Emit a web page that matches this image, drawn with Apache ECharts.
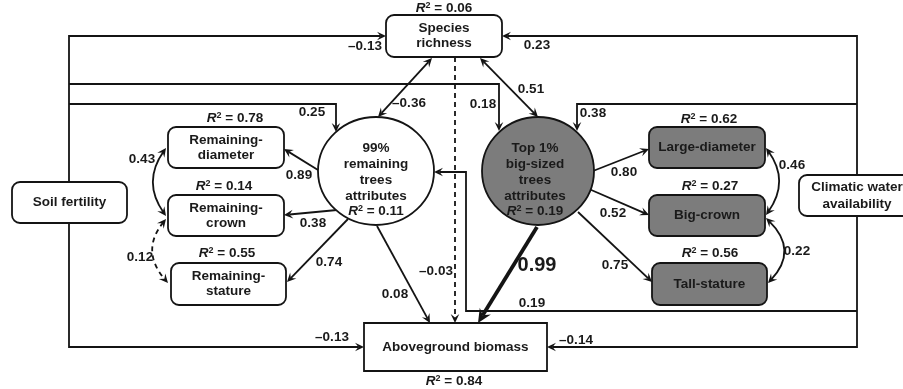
<!DOCTYPE html>
<html><head><meta charset="utf-8">
<script src="https://cdn.jsdelivr.net/npm/echarts@6/dist/echarts.min.js"></script>
<style>html,body{margin:0;padding:0;background:#fff}#c{width:903px;height:389px}</style>
</head><body><div id="c"></div>
<script>
// ---------------- data ----------------
const nodeNames = ['Species\nrichness', 'Soil fertility', 'Climatic water\navailability', 'Aboveground biomass',
  '99%\nremaining\ntrees\nattributes', 'Top 1%\nbig-sized\ntrees\nattributes',
  'Remaining-\ndiameter', 'Remaining-\ncrown', 'Remaining-\nstature',
  'Large-diameter', 'Big-crown', 'Tall-stature'];
const r2Values = [0.06, null, null, 0.84, 0.11, 0.19, 0.78, 0.14, 0.55, 0.62, 0.27, 0.56];
const pathFrom = ['Soil fertility','Soil fertility','Soil fertility','Soil fertility',
  'Climatic water','Climatic water','Climatic water','Climatic water',
  'Species richness','Species richness','Species richness',
  '99% remaining','99% remaining','99% remaining','99% remaining',
  'Top 1%','Top 1%','Top 1%','Top 1%',
  'Remaining-diameter','Remaining-crown','Large-diameter','Big-crown'];
const pathTo = ['Species richness','Top 1%','99% remaining','Aboveground biomass',
  'Species richness','Top 1%','Aboveground biomass','99% remaining',
  'Aboveground biomass','99% remaining','Top 1%',
  'Remaining-diameter','Remaining-crown','Remaining-stature','Aboveground biomass',
  'Large-diameter','Big-crown','Tall-stature','Aboveground biomass',
  'Remaining-crown','Remaining-stature','Big-crown','Tall-stature'];
const pathCoefs = [-0.13, 0.18, 0.25, -0.13, 0.23, 0.38, -0.14, 0.19, -0.03, -0.36, 0.51,
  0.89, 0.38, 0.74, 0.08, 0.80, 0.52, 0.75, 0.99, 0.43, 0.12, 0.46, 0.22];
const pathSignificant = [1,1,1,1,1,1,1,1,0,1,1,1,1,1,1,1,1,1,1,1,0,1,1];

// ---------------- layout (diagram coordinates) ----------------
const GRAY = '#7c7c7c';
const nodeLayout = [
  {shape:'rect', cx:444, cy:36, w:116, h:42, r:8, fill:'#fff', lh:15},
  {shape:'rect', cx:69.5, cy:202.5, w:115, h:41, r:8, fill:'#fff', lh:15},
  {shape:'rect', cx:857, cy:195.5, w:116, h:41, r:8, fill:'#fff', lh:17},
  {shape:'rect', cx:455.5, cy:347, w:183, h:48, r:0, fill:'#fff', lh:15},
  {shape:'ellipse', cx:376, cy:171, rx:58, ry:54, fill:'#fff', tx:376, ty:172, lh:16},
  {shape:'ellipse', cx:538, cy:171, rx:56, ry:54, fill:GRAY, tx:535, ty:172, lh:16},
  {shape:'rect', cx:226, cy:147.5, w:116, h:41, r:8, fill:'#fff', lh:15},
  {shape:'rect', cx:226, cy:215.5, w:116, h:41, r:8, fill:'#fff', lh:15},
  {shape:'rect', cx:228.5, cy:284, w:115, h:42, r:8, fill:'#fff', lh:15},
  {shape:'rect', cx:707, cy:147.5, w:116, h:41, r:8, fill:GRAY, lh:15},
  {shape:'rect', cx:707, cy:215.5, w:116, h:41, r:8, fill:GRAY, lh:15},
  {shape:'rect', cx:709.5, cy:284, w:115, h:42, r:8, fill:GRAY, lh:15}
];
const r2Layout = [[444,8],null,null,[454,381],[376,211],[535,211],[235,118],[224,186],[227,253],[709,119],[710,186],[710,253]];
const edgeLayout = [
  {pts:[[69,182],[69,36],[386,36]], lab:[365,46]},
  {pts:[[69,84],[499,84],[499,131]], lab:[483,104]},
  {pts:[[69,104],[336,104],[336,132]], lab:[312,112]},
  {pts:[[69,223],[69,347],[364,347]], lab:[332,337]},
  {pts:[[857,175],[857,36],[502,36]], lab:[537,45]},
  {pts:[[857,104],[577,104],[577,131]], lab:[593,113]},
  {pts:[[857,216],[857,347],[547,347]], lab:[576,340]},
  {pts:[[857,311],[466,311],[466,172],[434,172]], lab:[532,303]},
  {pts:[[455,57],[455,323]], lab:[436,271]},
  {pts:[[432,58],[378,117]], both:true, lab:[409,103]},
  {pts:[[480,58],[538,117]], both:true, lab:[531,89]},
  {pts:[[318,170],[284,149]], lab:[299,175]},
  {pts:[[337,210],[284,215]], lab:[313,223]},
  {pts:[[348,219],[287,282]], lab:[329,262]},
  {pts:[[377,226],[430,323]], lab:[395,294]},
  {pts:[[593,171],[649,149]], lab:[624,172]},
  {pts:[[589,189],[649,215]], lab:[613,213]},
  {pts:[[578,212],[652,282]], lab:[615,265]},
  {pts:[[537,227],[478,323]], thick:true, lab:[537,265], big:true},
  {pts:[[166,148],[142,182],[166,216]], curve:true, lab:[142,159]},
  {pts:[[166,219],[140,251],[168,283]], curve:true, lab:[140,257]},
  {pts:[[766,148],[790,181],[766,215]], curve:true, lab:[792,165]},
  {pts:[[766,218],[799,250],[768,283]], curve:true, lab:[797,251]}
];

// ---------------- rendering ----------------
const FONT = '"Liberation Sans", Arial, Helvetica, sans-serif';
const INK = '#141414';
const TXT = '#1a1a1a';
function fmt(v){ return (v < 0 ? '\u2013' : '') + Math.abs(v).toFixed(2); }
function r2Rich(v){ return '{i|R}{s|2}{n| = ' + v.toFixed(2) + '}'; }
const r2RichStyle = {
  i:{fontStyle:'italic', fontWeight:'bold', fontSize:13.5, fontFamily:FONT, fill:TXT},
  s:{fontWeight:'bold', fontSize:9, fontFamily:FONT, fill:TXT, verticalAlign:'top'},
  n:{fontWeight:'bold', fontSize:13.5, fontFamily:FONT, fill:TXT}
};

function arrowHead(tip, from, L, W, notch){
  const dx = tip[0]-from[0], dy = tip[1]-from[1];
  const len = Math.hypot(dx, dy) || 1;
  const ux = dx/len, uy = dy/len, nx = -uy, ny = ux;
  const bx = tip[0]-ux*L, by = tip[1]-uy*L;
  return {type:'polygon', shape:{points:[tip.slice(), [bx+nx*W, by+ny*W],
    [tip[0]-ux*(L-notch), tip[1]-uy*(L-notch)], [bx-nx*W, by-ny*W]]},
    style:{fill:INK, stroke:null}};
}
function shorten(p, from, d){
  const dx = p[0]-from[0], dy = p[1]-from[1];
  const len = Math.hypot(dx, dy) || 1;
  return [p[0]-dx/len*d, p[1]-dy/len*d];
}

function renderEdge(params, api){
  const idx = api.value(0);
  const e = edgeLayout[idx];
  const pts = e.pts.map(p => api.coord(p));
  const lw = e.thick ? 3.8 : 1.8;
  const L = e.thick ? 14 : 9, W = e.thick ? 6.5 : 4.3, notch = e.thick ? 5 : 3.5;
  const dash = pathSignificant[idx] ? null : [5, 4];
  const style = {stroke:INK, fill:null, lineWidth:lw, lineDash:dash};
  const children = [];
  if (e.curve){
    const a = pts[0], c = pts[1], b = pts[2];
    const a2 = shorten(a, c, 4), b2 = shorten(b, c, 4);
    children.push({type:'bezierCurve', shape:{x1:a2[0], y1:a2[1], x2:b2[0], y2:b2[1], cpx1:c[0], cpy1:c[1]}, style:style});
    children.push(arrowHead(a, c, L, W, notch));
    children.push(arrowHead(b, c, L, W, notch));
  } else {
    const n = pts.length;
    const line = pts.map(p => p.slice());
    line[n-1] = shorten(pts[n-1], pts[n-2], L - notch);
    if (e.both) line[0] = shorten(pts[0], pts[1], L - notch);
    children.push({type:'polyline', shape:{points:line}, style:style});
    children.push(arrowHead(pts[n-1], pts[n-2], L, W, notch));
    if (e.both) children.push(arrowHead(pts[0], pts[1], L, W, notch));
  }
  return {type:'group', children:children};
}

function renderNode(params, api){
  const i = api.value(0);
  const L = nodeLayout[i];
  const c = api.coord([L.cx, L.cy]);
  const children = [];
  if (L.shape === 'ellipse'){
    const e = api.coord([L.cx + L.rx, L.cy + L.ry]);
    children.push({type:'ellipse', shape:{cx:c[0], cy:c[1], rx:e[0]-c[0], ry:e[1]-c[1]},
      style:{fill:L.fill, stroke:INK, lineWidth:1.8}});
    const t = api.coord([L.tx, L.ty]);
    children.push({type:'text', x:t[0], y:t[1], style:{text:nodeNames[i], fill:TXT,
      font:'bold 13.5px ' + FONT, align:'center', verticalAlign:'middle', lineHeight:L.lh}});
  } else {
    const e = api.coord([L.cx + L.w/2, L.cy + L.h/2]);
    const hw = e[0]-c[0], hh = e[1]-c[1];
    children.push({type:'rect', shape:{x:c[0]-hw, y:c[1]-hh, width:2*hw, height:2*hh, r:L.r},
      style:{fill:L.fill, stroke:INK, lineWidth:1.8}});
    children.push({type:'text', x:c[0], y:c[1], style:{text:nodeNames[i], fill:TXT,
      font:'bold 13.5px ' + FONT, align:'center', verticalAlign:'middle', lineHeight:L.lh}});
  }
  return {type:'group', children:children};
}

function renderCoef(params, api){
  const idx = api.value(0);
  const e = edgeLayout[idx];
  const p = api.coord(e.lab);
  return {type:'text', x:p[0], y:p[1], style:{text:fmt(pathCoefs[idx]), fill:TXT,
    font:'bold ' + (e.big ? 20 : 13.5) + 'px ' + FONT, align:'center', verticalAlign:'middle'}};
}

function renderR2(params, api){
  const i = api.value(0);
  const pos = r2Layout[i];
  if (!pos || r2Values[i] == null) return null;
  const p = api.coord(pos);
  return {type:'text', x:p[0], y:p[1], style:{text:r2Rich(r2Values[i]), rich:r2RichStyle,
    align:'center', verticalAlign:'middle', fill:TXT, font:'bold 13.5px ' + FONT}};
}

const chart = echarts.init(document.getElementById('c'), null, {renderer:'canvas'});
chart.setOption({
  backgroundColor:'#ffffff',
  animation:false,
  grid:{left:0, right:0, top:0, bottom:0, containLabel:false},
  xAxis:{type:'value', min:0, max:903, show:false},
  yAxis:{type:'value', min:0, max:389, inverse:true, show:false},
  series:[
    {type:'custom', name:'paths', clip:false, renderItem:renderEdge, data:pathCoefs.map((v,i)=>[i]), z:1},
    {type:'custom', name:'nodes', clip:false, renderItem:renderNode, data:nodeNames.map((v,i)=>[i]), z:2},
    {type:'custom', name:'coefs', clip:false, renderItem:renderCoef, data:pathCoefs.map((v,i)=>[i]), z:3},
    {type:'custom', name:'r2', clip:false, renderItem:renderR2, data:r2Values.map((v,i)=>[i]), z:3}
  ]
});
</script></body></html>
